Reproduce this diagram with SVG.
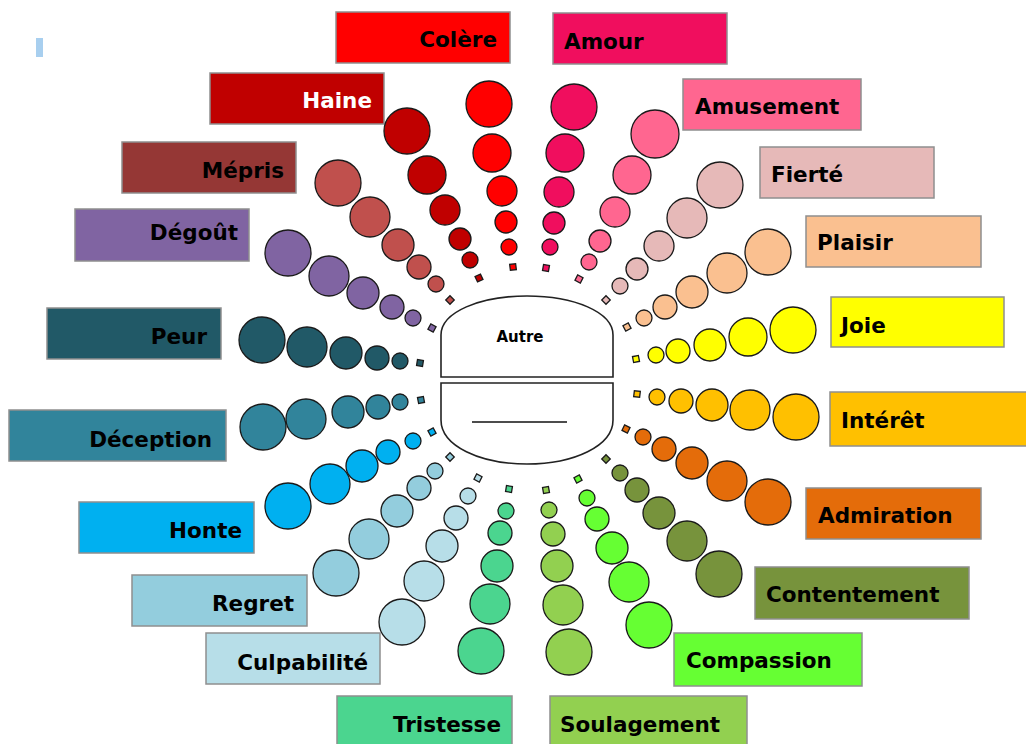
<svg xmlns="http://www.w3.org/2000/svg" width="1026" height="744" viewBox="0 0 1026 744">
<style>
.dot circle,.dot rect{stroke:#1a1a1a;stroke-width:1.3}
.dot rect.box{stroke:#8f8f8f;stroke-width:1.5}
.lbl{font-family:"DejaVu Sans","Liberation Sans",sans-serif;font-weight:bold;font-size:21.5px;fill:#000}
.r{text-anchor:end}
.colere{fill:#FF0000}.amour{fill:#F00E5E}.amuse{fill:#FF6690}.fierte{fill:#E6B9B8}
.plaisir{fill:#FAC090}.joie{fill:#FFFF00}.interet{fill:#FFC000}.admir{fill:#E46C0A}
.content{fill:#77933C}.compas{fill:#66FF33}.soulag{fill:#92D050}.trist{fill:#4BD58F}
.culpa{fill:#B7DEE8}.regret{fill:#93CDDD}.honte{fill:#00B0F0}.decep{fill:#31849B}
.peur{fill:#215967}.degout{fill:#8064A2}.mepris{fill:#C0504D}.meprisbox{fill:#953735}.haine{fill:#C00000}
.center{fill:#fff;stroke:#222;stroke-width:1.6}
</style>
<rect width="1026" height="744" fill="#fff"/>
<rect x="36" y="38" width="7" height="19" fill="#A8CFEF"/>

<g id="centre">
<path class="center" d="M441,377 V335 C441,312 480,296 527,296 C574,296 613,312 613,335 V377 Z"/>
<path class="center" d="M441,383 H613 V420 C613,446 574,464 527,464 C480,464 441,446 441,420 Z"/>
<text x="520" y="342" text-anchor="middle" font-family="DejaVu Sans, sans-serif" font-weight="bold" font-size="15">Autre</text>
<line x1="472" y1="422" x2="567" y2="422" stroke="#111" stroke-width="1.5"/>
</g>

<g id="colere" class="dot colere">
<rect class="box" x="336" y="12" width="174" height="51"/>
<text class="lbl r" x="497" y="47">Colère</text>
<circle cx="489" cy="104" r="23"/><circle cx="492" cy="153" r="19"/><circle cx="502" cy="191" r="15"/><circle cx="506" cy="222" r="11"/><circle cx="509" cy="247" r="8"/>
<rect x="510" y="264" width="6" height="6" transform="rotate(-7 513 267)"/>
</g>

<g id="amour" class="dot amour">
<rect class="box" x="553" y="13" width="174" height="51"/>
<text class="lbl" x="564" y="49">Amour</text>
<circle cx="574" cy="107" r="23"/><circle cx="565" cy="153" r="19"/><circle cx="559" cy="192" r="15"/><circle cx="554" cy="223" r="11"/><circle cx="550" cy="247" r="8"/>
<rect x="543" y="265" width="6" height="6" transform="rotate(10 546 268)"/>
</g>

<g id="amusement" class="dot amuse">
<rect class="box" x="683" y="79" width="178" height="51"/>
<text class="lbl" x="695" y="114">Amusement</text>
<circle cx="655" cy="134" r="24"/><circle cx="632" cy="175" r="19"/><circle cx="615" cy="212" r="15"/><circle cx="600" cy="241" r="11"/><circle cx="589" cy="262" r="8"/>
<rect x="576" y="276" width="6" height="6" transform="rotate(27 579 279)"/>
</g>

<g id="fierte" class="dot fierte">
<rect class="box" x="760" y="147" width="174" height="51"/>
<text class="lbl" x="771" y="182">Fierté</text>
<circle cx="720" cy="185" r="23"/><circle cx="687" cy="218" r="20"/><circle cx="659" cy="246" r="15"/><circle cx="637" cy="269" r="11"/><circle cx="620" cy="286" r="8"/>
<rect x="603" y="297" width="6" height="6" transform="rotate(45 606 300)"/>
</g>

<g id="plaisir" class="dot plaisir">
<rect class="box" x="806" y="216" width="175" height="51"/>
<text class="lbl" x="817" y="250">Plaisir</text>
<circle cx="768" cy="252" r="23"/><circle cx="727" cy="273" r="20"/><circle cx="692" cy="292" r="16"/><circle cx="665" cy="307" r="12"/><circle cx="644" cy="318" r="8"/>
<rect x="624" y="324" width="6" height="6" transform="rotate(-28 627 327)"/>
</g>

<g id="joie" class="dot joie">
<rect class="box" x="831" y="297" width="173" height="50"/>
<text class="lbl" x="841" y="333">Joie</text>
<circle cx="793" cy="330" r="23"/><circle cx="748" cy="337" r="19"/><circle cx="710" cy="345" r="16"/><circle cx="678" cy="351" r="12"/><circle cx="656" cy="355" r="8"/>
<rect x="633" y="356" width="6" height="6" transform="rotate(-11 636 359)"/>
</g>

<g id="interet" class="dot interet">
<rect class="box" x="830" y="392" width="200" height="54"/>
<text class="lbl" x="841" y="428">Intérêt</text>
<circle cx="796" cy="417" r="23"/><circle cx="750" cy="410" r="20"/><circle cx="712" cy="405" r="16"/><circle cx="681" cy="401" r="12"/><circle cx="657" cy="397" r="8"/>
<rect x="634" y="391" width="6" height="6" transform="rotate(7 637 394)"/>
</g>

<g id="admiration" class="dot admir">
<rect class="box" x="806" y="488" width="175" height="51"/>
<text class="lbl" x="818" y="523">Admiration</text>
<circle cx="768" cy="502" r="23"/><circle cx="727" cy="481" r="20"/><circle cx="692" cy="463" r="16"/><circle cx="664" cy="449" r="12"/><circle cx="643" cy="437" r="8"/>
<rect x="623" y="426" width="6" height="6" transform="rotate(26 626 429)"/>
</g>

<g id="contentement" class="dot content">
<rect class="box" x="755" y="567" width="214" height="52"/>
<text class="lbl" x="766" y="602">Contentement</text>
<circle cx="719" cy="574" r="23"/><circle cx="687" cy="541" r="20"/><circle cx="659" cy="513" r="16"/><circle cx="637" cy="490" r="12"/><circle cx="620" cy="473" r="8"/>
<rect x="603" y="456" width="6" height="6" transform="rotate(45 606 459)"/>
</g>

<g id="compassion" class="dot compas">
<rect class="box" x="674" y="633" width="188" height="53"/>
<text class="lbl" x="686" y="668">Compassion</text>
<circle cx="649" cy="625" r="23"/><circle cx="629" cy="582" r="20"/><circle cx="612" cy="548" r="16"/><circle cx="597" cy="519" r="12"/><circle cx="587" cy="498" r="8"/>
<rect x="575" y="476" width="6" height="6" transform="rotate(-27 578 479)"/>
</g>

<g id="soulagement" class="dot soulag">
<rect class="box" x="550" y="696" width="197" height="52"/>
<text class="lbl" x="560" y="732">Soulagement</text>
<circle cx="569" cy="652" r="23"/><circle cx="563" cy="605" r="20"/><circle cx="557" cy="566" r="16"/><circle cx="553" cy="534" r="12"/><circle cx="549" cy="510" r="8"/>
<rect x="543" y="487" width="6" height="6" transform="rotate(-10 546 490)"/>
</g>

<g id="tristesse" class="dot trist">
<rect class="box" x="337" y="696" width="175" height="52"/>
<text class="lbl r" x="501" y="732">Tristesse</text>
<circle cx="481" cy="651" r="23"/><circle cx="490" cy="604" r="20"/><circle cx="497" cy="566" r="16"/><circle cx="500" cy="533" r="12"/><circle cx="506" cy="511" r="8"/>
<rect x="506" y="486" width="6" height="6" transform="rotate(9 509 489)"/>
</g>

<g id="culpabilite" class="dot culpa">
<rect class="box" x="206" y="633" width="174" height="51"/>
<text class="lbl r" x="368" y="670">Culpabilité</text>
<circle cx="402" cy="622" r="23"/><circle cx="424" cy="581" r="20"/><circle cx="442" cy="546" r="16"/><circle cx="456" cy="518" r="12"/><circle cx="468" cy="496" r="8"/>
<rect x="475" y="475" width="6" height="6" transform="rotate(27 478 478)"/>
</g>

<g id="regret" class="dot regret">
<rect class="box" x="132" y="575" width="175" height="51"/>
<text class="lbl r" x="294" y="611">Regret</text>
<circle cx="336" cy="573" r="23"/><circle cx="369" cy="539" r="20"/><circle cx="397" cy="511" r="16"/><circle cx="419" cy="488" r="12"/><circle cx="435" cy="471" r="8"/>
<rect x="447" y="454" width="6" height="6" transform="rotate(45 450 457)"/>
</g>

<g id="honte" class="dot honte">
<rect class="box" x="79" y="502" width="175" height="51"/>
<text class="lbl r" x="242" y="538">Honte</text>
<circle cx="288" cy="506" r="23"/><circle cx="330" cy="484" r="20"/><circle cx="362" cy="466" r="16"/><circle cx="388" cy="452" r="12"/><circle cx="413" cy="441" r="8"/>
<rect x="429" y="429" width="6" height="6" transform="rotate(-29 432 432)"/>
</g>

<g id="deception" class="dot decep">
<rect class="box" x="9" y="410" width="217" height="51"/>
<text class="lbl r" x="212" y="447">Déception</text>
<circle cx="263" cy="427" r="23"/><circle cx="306" cy="419" r="20"/><circle cx="348" cy="412" r="16"/><circle cx="378" cy="407" r="12"/><circle cx="400" cy="402" r="8"/>
<rect x="418" y="397" width="6" height="6" transform="rotate(-11 421 400)"/>
</g>

<g id="peur" class="dot peur">
<rect class="box" x="47" y="308" width="174" height="51"/>
<text class="lbl r" x="207" y="344">Peur</text>
<circle cx="262" cy="340" r="23"/><circle cx="307" cy="347" r="20"/><circle cx="346" cy="353" r="16"/><circle cx="377" cy="358" r="12"/><circle cx="400" cy="361" r="8"/>
<rect x="417" y="360" width="6" height="6" transform="rotate(9 420 363)"/>
</g>

<g id="degout" class="dot degout">
<rect class="box" x="75" y="209" width="174" height="52"/>
<text class="lbl r" x="238" y="240">Dégoût</text>
<circle cx="288" cy="253" r="23"/><circle cx="329" cy="276" r="20"/><circle cx="363" cy="293" r="16"/><circle cx="392" cy="307" r="12"/><circle cx="413" cy="318" r="8"/>
<rect x="429" y="325" width="6" height="6" transform="rotate(29 432 328)"/>
</g>

<g id="mepris" class="dot mepris">
<rect class="box meprisbox" x="122" y="142" width="174" height="51"/>
<text class="lbl r" x="284" y="178">Mépris</text>
<circle cx="338" cy="183" r="23"/><circle cx="370" cy="217" r="20"/><circle cx="398" cy="245" r="16"/><circle cx="419" cy="267" r="12"/><circle cx="436" cy="284" r="8"/>
<rect x="447" y="297" width="6" height="6" transform="rotate(45 450 300)"/>
</g>

<g id="haine" class="dot haine">
<rect class="box" x="210" y="73" width="174" height="51"/>
<text class="lbl r" x="372" y="108" style="fill:#fff">Haine</text>
<circle cx="407" cy="131" r="23"/><circle cx="427" cy="175" r="19"/><circle cx="445" cy="210" r="15"/><circle cx="460" cy="239" r="11"/><circle cx="470" cy="260" r="8"/>
<rect x="476" y="275" width="6" height="6" transform="rotate(-25 479 278)"/>
</g>
</svg>
